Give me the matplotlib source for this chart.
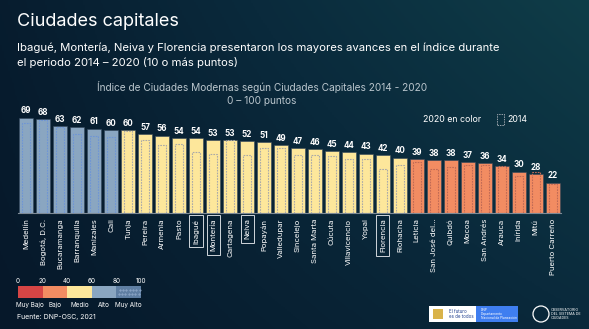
import numpy as np
import matplotlib.pyplot as plt
from matplotlib.patches import Rectangle, Ellipse
from matplotlib.colors import LinearSegmentedColormap

plt.rcParams['font.family'] = ['Inter', 'DejaVu Sans']

cities = ["Medellín", "Bogotá, D.C.", "Bucaramanga", "Barranquilla", "Manizales", "Cali",
          "Tunja", "Pereira", "Armenia", "Pasto", "Ibagué", "Montería", "Cartagena", "Neiva",
          "Popayán", "Valledupar", "Sincelejo", "Santa Marta", "Cúcuta", "Villavicencio",
          "Yopal", "Florencia", "Riohacha", "Leticia", "San José del...", "Quibdó", "Mocoa",
          "San Andrés", "Arauca", "Inírida", "Mitú", "Puerto Carreño"]
values_2020 = [69, 68, 63, 62, 61, 60, 60, 57, 56, 54, 54, 53, 53, 52, 51, 49, 47, 46, 45,
               44, 43, 42, 40, 39, 38, 38, 37, 36, 34, 30, 28, 22]
values_2014 = [65, 67, 62, 57, 56, 55, 59, 53, 49, 50, 44, 43, 53, 42, 47, 47, 42, 42, 41,
               39, 39, 32, 35, 37, 32, 33, 35, 35, 34, 27, 30, 21]
levels = ["Alto"] * 6 + ["Medio"] * 17 + ["Bajo"] * 9
highlighted = ["Ibagué", "Montería", "Neiva", "Florencia"]

scale_ticks = [0, 20, 40, 60, 80, 100]
scale_names = ["Muy Bajo", "Bajo", "Medio", "Alto", "Muy Alto"]
scale_colors = ["#d64545", "#f28c62", "#fde79b", "#8aa6c1", "#5f7fa3"]
fill_of = dict(zip(scale_names, scale_colors))
edge_of = {"Alto": "#6e95d6", "Medio": "#a9a9a9", "Bajo": "#c06a55"}

W, H = 589, 329
fig = plt.figure(figsize=(W / 100, H / 100), dpi=100)

# background gradient
bg = fig.add_axes([0, 0, 1, 1])
bg.set_axis_off()
xx, yy = np.meshgrid(np.linspace(0, 1, 300), np.linspace(0, 1, 200))
grad = 0.55 * xx + 0.45 * (1 - yy) * xx + 0.15 * (1 - yy)
cmap_bg = LinearSegmentedColormap.from_list("bg", ["#06182a", "#0a2a3c", "#0f3d48"])
bg.imshow(grad, cmap=cmap_bg, aspect='auto', extent=[0, 1, 0, 1], origin='upper')
bg.set_xlim(0, 1)
bg.set_ylim(0, 1)

def px(x, y):
    return x / W, 1 - y / H

fig.text(*px(17, 22), "Ciudades capitales", color="white", fontsize=13, va="center", ha="left")
fig.text(*px(17, 48), "Ibagué, Montería, Neiva y Florencia presentaron los mayores avances en el índice durante",
         color="white", fontsize=8.15, va="center", ha="left")
fig.text(*px(17, 63), "el periodo 2014 – 2020 (10 o más puntos)", color="white", fontsize=8.15,
         va="center", ha="left")
fig.text(*px(262, 87), "Índice de Ciudades Modernas según Ciudades Capitales 2014 - 2020",
         color="#b9c5cc", fontsize=7.3, va="center", ha="center")
fig.text(*px(262, 101), "0 – 100 puntos", color="#b9c5cc", fontsize=7.3, va="center", ha="center")

# main bar chart
ax = fig.add_axes([17.8 / W, 116 / H, 543.4 / W, 103.7 / H])
ax.set_facecolor("none")
n = len(cities)
x = np.arange(n)
ax.bar(x, values_2020, width=0.8, color=[fill_of[l] for l in levels],
       edgecolor="#33465a", linewidth=0.4, zorder=2)
ax.bar(x, values_2014, width=0.45, facecolor="none",
       edgecolor=[edge_of[l] for l in levels], linewidth=0.8, linestyle=(0, (1.5, 1)), zorder=3)
for xi, v in zip(x, values_2020):
    ax.text(xi, v + 1.6, str(v), ha="center", va="bottom", color="white", fontsize=5.8,
            fontweight="bold")
ax.set_xlim(-0.5, n - 0.5)
ax.set_ylim(0, 75)
for s in ["top", "right", "left"]:
    ax.spines[s].set_visible(False)
ax.spines["bottom"].set_color("#7d8a96")
ax.spines["bottom"].set_linewidth(0.8)
ax.set_yticks([])
ax.set_xticks(x)
ax.set_xticklabels(cities, rotation=90, color="white", fontsize=5.6)
ax.tick_params(axis="x", length=0, pad=4)
for lbl in ax.get_xticklabels():
    if lbl.get_text() in highlighted:
        lbl.set_bbox(dict(boxstyle="square,pad=0.45", facecolor="none", edgecolor="#d0d6dc",
                          linewidth=0.7))

# legend
fig.text(*px(452, 119), "2020 en color", color="white", fontsize=6.3, va="center", ha="center")
bg.add_patch(Rectangle(px(497, 125), 7 / W, 11 / H, facecolor="none", edgecolor="#9aa3ab",
                       linewidth=0.7, linestyle=(0, (1.5, 1))))
fig.text(*px(507, 119), "2014", color="white", fontsize=6.3, va="center", ha="left")

# colour scale
cb = fig.add_axes([18 / W, 1 - 298 / H, 123 / W, 12 / H])
cb.set_xlim(0, 100)
cb.set_ylim(0, 1)
for i, c in enumerate(scale_colors):
    cb.add_patch(Rectangle((scale_ticks[i], 0), 20, 1, facecolor=c, edgecolor="none"))
for dx in np.linspace(82, 98, 7):
    for dy in (0.3, 0.7):
        cb.plot(dx + (0.8 if dy > 0.5 else 0), dy, marker='.', ms=0.8, color="#9fb6d6")
cb.set_xticks(scale_ticks)
cb.set_xticklabels([str(t) for t in scale_ticks], fontsize=4.6, color="white")
cb.xaxis.tick_top()
cb.tick_params(axis="x", length=0, pad=1.5)
cb.set_yticks([])
for s in cb.spines.values():
    s.set_visible(False)
for i, name in enumerate(scale_names):
    fig.text(*px(18 + (scale_ticks[i] + 10) * 1.23, 305), name, color="white", fontsize=4.6,
             ha="center", va="center")
fig.text(*px(17, 317), "Fuente: DNP-OSC, 2021", color="white", fontsize=5, ha="left", va="center")

# institutional logos
bg.add_patch(Rectangle(px(429, 322), 47 / W, 16 / H, facecolor="white", edgecolor="none"))
bg.add_patch(Rectangle(px(476, 322), 42 / W, 16 / H, facecolor="#3f7ef0", edgecolor="none"))
bg.add_patch(Rectangle(px(433, 319), 10 / W, 10 / H, facecolor="#d9b34a", edgecolor="none"))
fig.text(*px(449, 314), "El futuro\nes de todos", color="#1f3f8f", fontsize=3.2, ha="left",
         va="center", linespacing=1.0)
fig.text(*px(481, 314), "DNP\nDepartamento\nNacional de Planeación", color="white", fontsize=2.4,
         ha="left", va="center", linespacing=1.0)
bg.add_patch(Ellipse(px(541, 314), 16 / W, 16 / H, facecolor="none", edgecolor="white",
                     linewidth=0.9))
fig.text(*px(551, 314), "OBSERVATORIO\nDEL SISTEMA DE\nCIUDADES", color="white", fontsize=2.6,
         ha="left", va="center", linespacing=1.0)

fig.savefig("out.png", dpi=100)
